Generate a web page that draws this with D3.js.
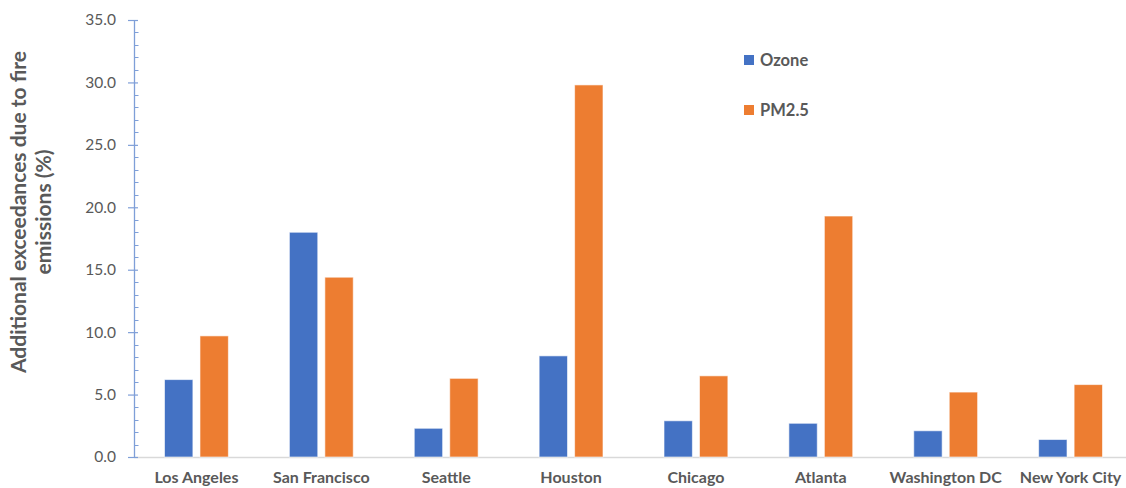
<!DOCTYPE html>
<html>
<head>
<meta charset="utf-8">
<script src="https://cdn.jsdelivr.net/npm/d3@7"></script>
<style>
  html, body { margin: 0; padding: 0; background: #fff; }
  svg { display: block; font-family: Lato, "Open Sans", sans-serif; }
</style>
</head>
<body>
<svg id="chart" width="1126" height="488"></svg>
<script>
// Cities and the two pollutant series (% additional exceedances)
const cities = ["Los Angeles", "San Francisco", "Seattle", "Houston", "Chicago", "Atlanta", "Washington DC", "New York City"];
const ozone = [6.2, 18.0, 2.3, 8.1, 2.9, 2.7, 2.1, 1.4];
const pm25  = [9.7, 14.4, 6.3, 29.8, 6.5, 19.3, 5.2, 5.8];
const seriesNames = ["Ozone", "PM2.5"];
const yTicks = [0, 5, 10, 15, 20, 25, 30, 35];

const colors = { "Ozone": "#4472C4", "PM2.5": "#ED7D31" };
const textGray = "#595959";

const svg = d3.select("#chart");
const plot = { left: 134, right: 1133, top: 20, bottom: 457 };

const x = d3.scaleBand().domain(cities).range([plot.left, plot.right]).paddingInner(0).paddingOuter(0);
const inner = d3.scaleBand().domain(seriesNames).range([0, x.bandwidth()]).paddingInner(0.2).paddingOuter(0.86);
const y = d3.scaleLinear().domain([0, 35]).range([plot.bottom, plot.top]);

// Horizontal baseline
svg.append("line")
  .attr("x1", plot.left).attr("x2", 1126)
  .attr("y1", y(0) + 0.5).attr("y2", y(0) + 0.5)
  .attr("stroke", "#D9D9D9").attr("stroke-width", 1.5);

// Bars
const rows = cities.map((c, i) => ({ city: c, values: [ozone[i], pm25[i]] }));
const groups = svg.append("g").selectAll("g").data(rows).join("g")
  .attr("transform", d => `translate(${x(d.city)},0)`);
groups.selectAll("rect")
  .data(d => seriesNames.map((s, j) => ({ s, v: d.values[j] })))
  .join("rect")
  .attr("x", d => inner(d.s))
  .attr("width", inner.bandwidth())
  .attr("y", d => y(d.v))
  .attr("height", d => y(0) - y(d.v))
  .attr("fill", d => colors[d.s])
  .attr("stroke", "#ffffff")
  .attr("stroke-opacity", 0.6)
  .attr("stroke-width", 1);

// Minor ticks every 1.0 on the right side of the axis
const axisColor = "#7F9FD8";
svg.append("g").selectAll("line").data(d3.range(0, 36, 1).filter(v => v % 5 !== 0)).join("line")
  .attr("x1", plot.left).attr("x2", plot.left + 4.5)
  .attr("y1", d => Math.round(y(d)) + 0.5).attr("y2", d => Math.round(y(d)) + 0.5)
  .attr("stroke", axisColor).attr("stroke-width", 1);

// Y axis with major ticks crossing the line
const yAxis = d3.axisLeft(y).tickValues(yTicks).tickFormat(d3.format(".1f")).tickSize(0).tickPadding(18);
const ya = svg.append("g").attr("transform", `translate(${plot.left},0)`).call(yAxis);
ya.select(".domain").remove();
ya.selectAll(".tick text").attr("fill", textGray).style("font-size", "15.5px")
  .style("font-family", "Lato, sans-serif");
ya.selectAll(".tick").append("line")
  .attr("x1", -6).attr("x2", 4).attr("y1", 0).attr("y2", 0)
  .attr("stroke", axisColor).attr("stroke-width", 1.2);
svg.append("line")
  .attr("x1", plot.left + 0.5).attr("x2", plot.left + 0.5)
  .attr("y1", y(35)).attr("y2", y(0))
  .attr("stroke", axisColor).attr("stroke-width", 1.3);

// Category labels
const xAxis = d3.axisBottom(x).tickSize(0).tickPadding(0);
const xa = svg.append("g").attr("transform", `translate(0,${plot.bottom})`).call(xAxis);
xa.select(".domain").remove();
xa.selectAll(".tick text")
  .attr("y", 26).attr("dy", 0)
  .attr("fill", textGray)
  .style("font-size", "16px").style("font-weight", "bold")
  .style("font-family", "Lato, sans-serif");

// Y axis title (two lines)
const title = svg.append("text")
  .attr("transform", "translate(0,212) rotate(-90)")
  .attr("text-anchor", "middle")
  .attr("fill", textGray)
  .style("font-size", "21px").style("font-weight", "bold");
title.append("tspan").attr("x", 0).attr("y", 26).text("Additional exceedances due to fire");
title.append("tspan").attr("x", 0).attr("y", 51).text("emissions (%)");

// Legend
const legend = svg.append("g").selectAll("g").data(seriesNames).join("g")
  .attr("transform", (d, i) => `translate(744,${55 + i * 50})`);
legend.append("rect").attr("width", 10).attr("height", 10).attr("fill", d => colors[d]);
legend.append("text").attr("x", 16).attr("y", 10.5).text(d => d)
  .attr("fill", textGray).style("font-size", "16.5px").style("font-weight", "bold");
</script>
</body>
</html>
